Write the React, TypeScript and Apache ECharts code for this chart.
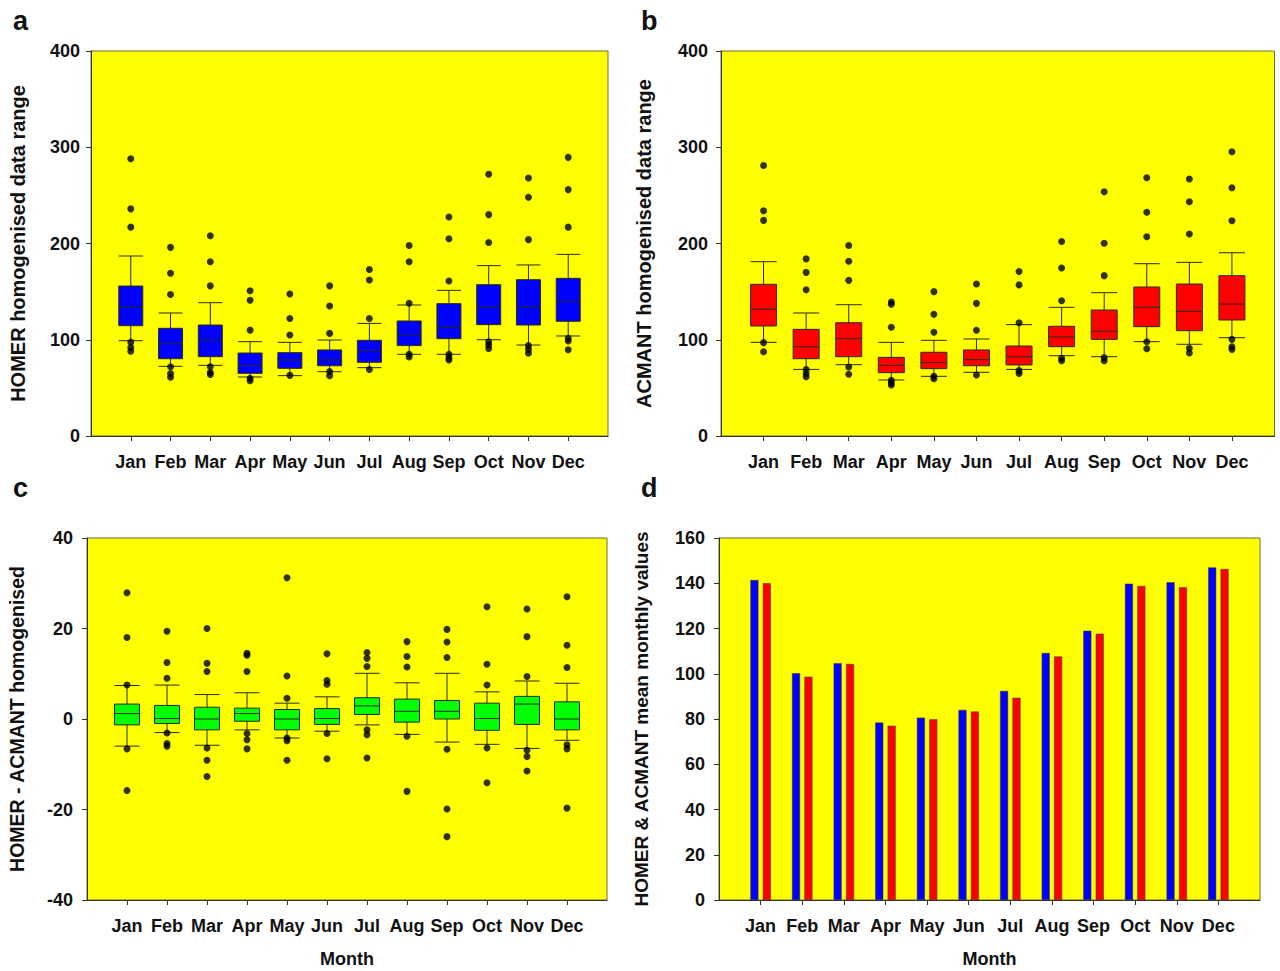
import React, { useEffect, useRef } from "react";
import * as echarts from "echarts";

// ---------- Data ----------
const months = ["Jan", "Feb", "Mar", "Apr", "May", "Jun", "Jul", "Aug", "Sep", "Oct", "Nov", "Dec"];
// padded category list so that the months sit one step in from each plot edge
const axisCategories = ["", ...months, " "];

// Panel a: HOMER homogenised data range [lower whisker, Q1, median, Q3, upper whisker]
const homerBoxes = [
  [99, 114.6, 134, 155.8, 187],
  [72.4, 80.3, 95.9, 111.9, 127.8],
  [73.4, 82.4, 99.7, 115.3, 138.5],
  [61.3, 65.1, 73, 86.2, 98],
  [62.7, 70.3, 79, 86.6, 97.3],
  [66.8, 73, 79, 89.4, 99.7],
  [71, 76.6, 89, 99.4, 117],
  [84.9, 93.9, 105.6, 119.5, 136.1],
  [84.9, 101.1, 113.6, 137.5, 151.3],
  [100, 115.7, 134.4, 157.2, 177],
  [94.5, 115.3, 134.4, 162.4, 177.7],
  [103.9, 119.2, 139.6, 163.8, 188.7],
];
const homerOutliers = [
  [288, 236, 217, 97.5, 92, 88],
  [196, 169, 147, 72, 65, 61],
  [208, 181, 156, 72, 66, 64],
  [151, 141, 110, 60, 57.5],
  [147.5, 122, 105, 63],
  [156, 135, 106.6, 67, 62.7],
  [173, 162, 122, 69],
  [198, 181, 138, 85, 82],
  [227.5, 205, 161, 85, 81.4, 79],
  [272, 230, 201, 98, 94.5, 91],
  [268, 248, 204, 94, 90, 86],
  [289.5, 256, 217, 101.5, 98.7, 89.7],
];

// Panel b: ACMANT homogenised data range
const acmantBoxes = [
  [97.3, 114.3, 131.6, 157.6, 181.1],
  [69.2, 80.3, 92.8, 110.8, 127.8],
  [74.1, 82.4, 101.1, 117.7, 136.4],
  [58.2, 65.8, 73.4, 81.7, 97.3],
  [62, 70, 76.2, 87, 99.4],
  [66.2, 73, 79.3, 89.4, 100.8],
  [69.2, 73.8, 82.4, 93.5, 115.7],
  [83.4, 92.8, 102.9, 114, 133.7],
  [82.4, 100.4, 108.8, 130.9, 148.9],
  [98, 113.6, 133.7, 154.8, 179],
  [95.3, 109.4, 129.5, 157.9, 180.4],
  [102.1, 120.5, 137.1, 166.6, 190.4],
];
const acmantOutliers = [
  [281, 234, 224, 97, 87.6],
  [184, 170, 152, 69, 65, 61.6],
  [198, 181.5, 161.7, 71.7, 64.1],
  [139.2, 136.8, 112.9, 58, 55.4, 53],
  [150, 126.4, 107.7, 62, 59.6],
  [157.9, 137.8, 109.8, 63.4],
  [171, 157, 117.7, 67.9, 65],
  [202, 174.5, 140.6, 80.7, 78.2],
  [253.8, 200.2, 166.6, 81.4, 78.2],
  [268.4, 232.4, 207.1, 98, 90.7],
  [267, 243.4, 209.9, 91.1, 86.2],
  [295.4, 258, 223.7, 100.4, 92.8, 90],
];

// Panel c: HOMER - ACMANT homogenised
const diffBoxes = [
  [-6.0, -1.3, 1.2, 3.3, 7.4],
  [-3.0, -1.0, 0.1, 3.0, 7.5],
  [-5.8, -2.4, 0, 2.6, 5.4],
  [-2.4, -0.5, 1.2, 2.4, 5.8],
  [-4.2, -2.4, 0, 2.1, 3.5],
  [-2.7, -1.2, 0.1, 2.3, 4.9],
  [-1.3, 1.0, 2.9, 4.7, 10.1],
  [-3.4, -0.7, 1.7, 4.4, 8.0],
  [-5.1, 0, 1.7, 4.1, 10.1],
  [-5.6, -2.5, 0.1, 3.5, 6.0],
  [-6.5, -1.2, 3.3, 5.0, 8.4],
  [-4.7, -2.4, 0, 3.8, 7.9],
];
const diffOutliers = [
  [27.9, 18.0, 7.5, -6.6, -15.8],
  [19.4, 12.5, 9.0, -3.1, -5.4, -6.0],
  [20.0, 12.3, 10.5, -6.4, -9.1, -12.7],
  [14.5, 14.1, 10.5, -3.2, -4.6, -6.6],
  [31.2, 9.5, 4.6, -4.2, -4.8, -9.1],
  [14.4, 8.5, 7.7, -3.2, -8.8],
  [14.7, 13.4, 11.6, -2.4, -3.5, -8.6],
  [17.1, 13.8, 11.5, -3.8, -16.0],
  [19.8, 17.0, 13.6, -6.7, -19.9, -26.0],
  [24.8, 12.1, 7.5, -6.4, -14.1],
  [24.3, 18.2, 9.4, -6.9, -8.3, -11.5],
  [27.0, 16.3, 11.4, -5.7, -6.6, -19.7],
];

// Panel d: mean monthly values
const homerMeans = [141.4, 100.2, 104.6, 78.4, 80.6, 84.0, 92.4, 109.2, 119.0, 139.8, 140.4, 147.0];
const acmantMeans = [140.0, 98.7, 104.3, 77.0, 79.9, 83.3, 89.4, 107.6, 117.7, 138.8, 138.2, 146.3];

// ---------- Styling ----------
const FONT = "'Liberation Sans', Arial, Helvetica, sans-serif";
const AXIS_COLOR = "#333";
const TEXT_COLOR = "#111";
const YELLOW = "#ffff00";

function xAxisFor(gridIndex: number, withName: boolean) {
  return {
    type: "category",
    gridIndex,
    data: axisCategories,
    boundaryGap: false,
    axisLine: { show: true, onZero: false, lineStyle: { color: AXIS_COLOR, width: 1 } },
    axisTick: {
      show: true,
      length: 5,
      interval: (i: number) => i > 0 && i < axisCategories.length - 1,
      lineStyle: { color: AXIS_COLOR },
    },
    axisLabel: {
      interval: 0,
      margin: 17,
      color: TEXT_COLOR,
      fontFamily: FONT,
      fontWeight: "bold",
      fontSize: 18,
    },
    splitLine: { show: false },
    name: withName ? "Month" : "",
    nameLocation: "middle",
    nameGap: 50,
    nameTextStyle: { color: TEXT_COLOR, fontFamily: FONT, fontWeight: "bold", fontSize: 18 },
  };
}

function yAxisFor(
  gridIndex: number,
  min: number,
  max: number,
  interval: number,
  name: string,
  nameGap: number,
  labelMargin: number,
  nameSize: number
) {
  return {
    type: "value",
    gridIndex,
    min,
    max,
    interval,
    axisLine: { show: true, lineStyle: { color: AXIS_COLOR, width: 1 } },
    axisTick: { show: true, length: 5, lineStyle: { color: AXIS_COLOR } },
    axisLabel: {
      margin: labelMargin,
      color: TEXT_COLOR,
      fontFamily: FONT,
      fontWeight: "bold",
      fontSize: 18,
    },
    splitLine: { show: false },
    name,
    nameLocation: "middle",
    nameGap,
    nameRotate: 90,
    nameTextStyle: { color: TEXT_COLOR, fontFamily: FONT, fontWeight: "bold", fontSize: nameSize },
  };
}

function boxSource(boxes: number[][]) {
  return months.map((m, i) => [m, ...boxes[i]]);
}
function outlierPoints(outliers: number[][]) {
  const pts: (string | number)[][] = [];
  months.forEach((m, i) => outliers[i].forEach((v) => pts.push([m, v])));
  return pts;
}

function boxSeries(idx: number, color: string, width: number) {
  return {
    type: "boxplot",
    xAxisIndex: idx,
    yAxisIndex: idx,
    datasetIndex: idx,
    encode: { x: 0, y: [1, 2, 3, 4, 5] },
    boxWidth: [width, width],
    itemStyle: { color, borderColor: "#2a2a10", borderWidth: 1 },
    z: 2,
  };
}
function outlierSeries(idx: number, outliers: number[][]) {
  return {
    type: "scatter",
    xAxisIndex: idx,
    yAxisIndex: idx,
    data: outlierPoints(outliers),
    symbol: "circle",
    symbolSize: 7,
    itemStyle: { color: "#000" },
    z: 3,
  };
}

function buildOption() {
  const gridCommon = { show: true, backgroundColor: YELLOW, borderColor: "#6b6b40", borderWidth: 1, containLabel: false };
  const letter = (t: string, left: number, top: number) => ({
    type: "text",
    left,
    top,
    style: { text: t, fill: TEXT_COLOR, font: `bold 27px ${FONT}` },
  });
  return {
    animation: false,
    backgroundColor: "#ffffff",
    textStyle: { fontFamily: FONT },
    grid: [
      { ...gridCommon, left: 91, top: 51, width: 517, height: 385 },
      { ...gridCommon, left: 721, top: 51, width: 559, height: 385 },
      { ...gridCommon, left: 87, top: 538, width: 520, height: 362 },
      { ...gridCommon, left: 719, top: 538, width: 541, height: 362 },
    ],
    dataset: [
      { source: boxSource(homerBoxes) },
      { source: boxSource(acmantBoxes) },
      { source: boxSource(diffBoxes) },
    ],
    xAxis: [xAxisFor(0, false), xAxisFor(1, false), xAxisFor(2, true), xAxisFor(3, true)],
    yAxis: [
      yAxisFor(0, 0, 400, 100, "HOMER homogenised data range", 63, 11, 20),
      yAxisFor(1, 0, 400, 100, "ACMANT homogenised data range", 67, 13, 20),
      yAxisFor(2, -40, 40, 20, "HOMER - ACMANT homogenised", 60, 14, 19.5),
      yAxisFor(3, 0, 160, 20, "HOMER & ACMANT mean monthly values", 68, 14, 19),
    ],
    series: [
      boxSeries(0, "#0000ff", 24),
      outlierSeries(0, homerOutliers),
      boxSeries(1, "#ff0000", 26),
      outlierSeries(1, acmantOutliers),
      boxSeries(2, "#00ff00", 25),
      outlierSeries(2, diffOutliers),
      {
        type: "bar",
        name: "HOMER",
        xAxisIndex: 3,
        yAxisIndex: 3,
        data: months.map((m, i) => [m, homerMeans[i]]),
        barWidth: 8,
        barGap: "55%",
        itemStyle: { color: "#0000ff", borderColor: "#333", borderWidth: 0.5 },
      },
      {
        type: "bar",
        name: "ACMANT",
        xAxisIndex: 3,
        yAxisIndex: 3,
        data: months.map((m, i) => [m, acmantMeans[i]]),
        barWidth: 8,
        barGap: "55%",
        itemStyle: { color: "#ff0000", borderColor: "#333", borderWidth: 0.5 },
      },
    ],
    graphic: [letter("a", 13, 7), letter("b", 641, 7), letter("c", 13, 474), letter("d", 641, 474)],
  };
}

export default function App() {
  const ref = useRef<HTMLDivElement>(null);
  useEffect(() => {
    if (!ref.current) return;
    const chart = echarts.init(ref.current, null, { renderer: "svg" });
    chart.setOption(buildOption() as any);
    return () => chart.dispose();
  }, []);
  return (
    <div
      ref={ref}
      style={{ position: "absolute", left: 0, top: 0, width: 1280, height: 971, background: "#fff" }}
    />
  );
}
